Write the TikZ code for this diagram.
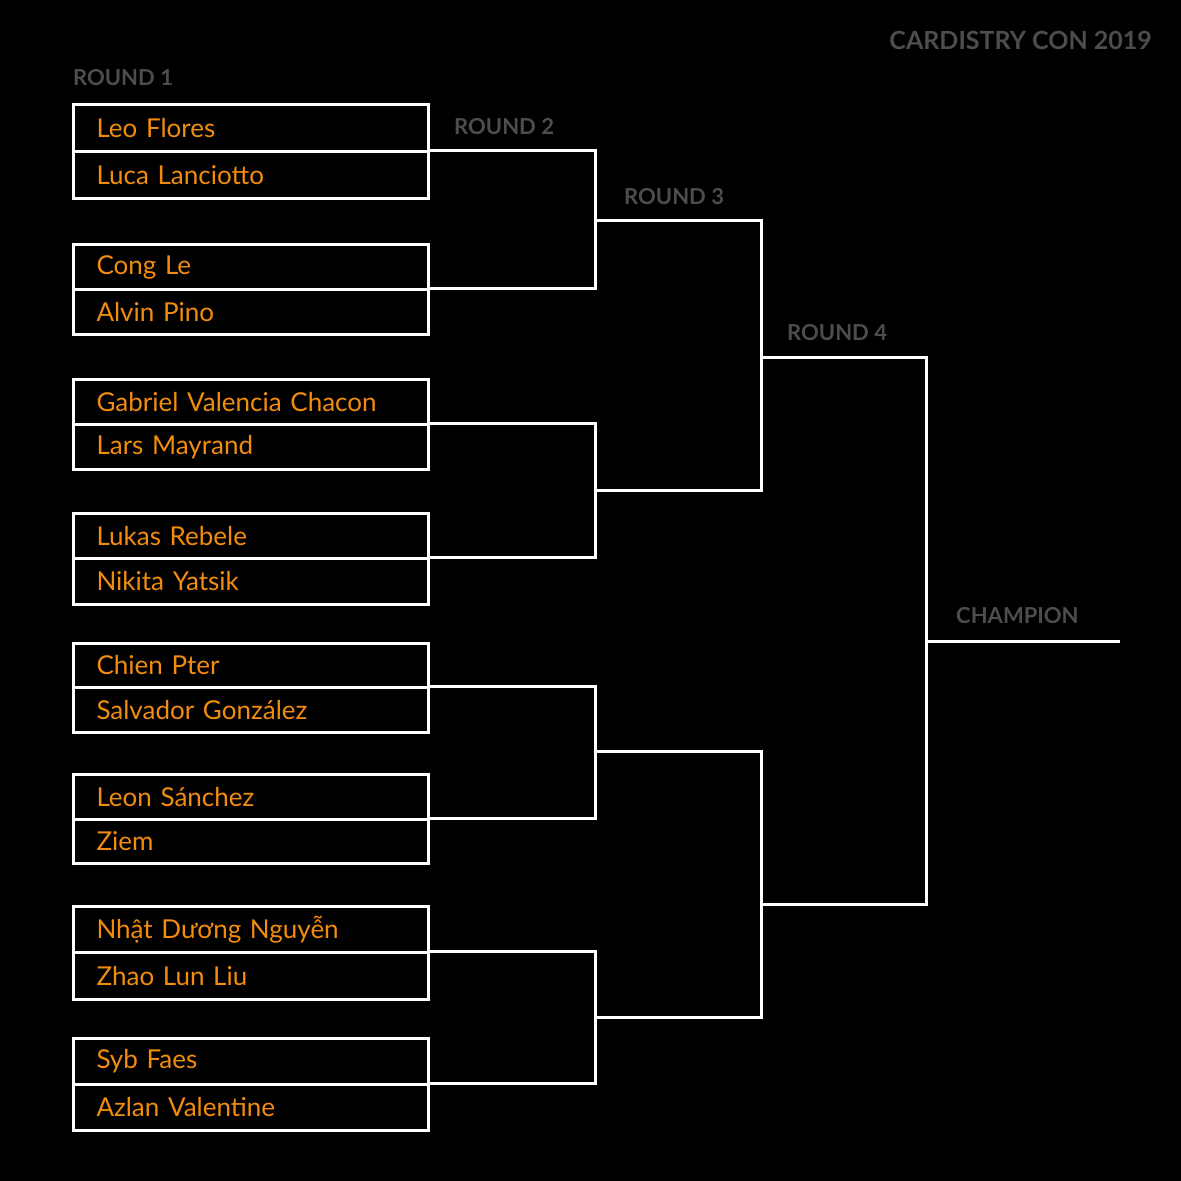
\documentclass[tikz,border=0pt]{standalone}
\usepackage{fontspec}
\setmainfont{Lato}
\usetikzlibrary{positioning}
\definecolor{bracketorange}{HTML}{F28C0F}
\definecolor{roundgray}{HTML}{4D4D4D}
\tikzset{
	entrant/.style={draw=white, line width=3pt, inner xsep=23pt, inner ysep=0pt, text width=309pt, align=left, text=bracketorange, font=\fontsize{26}{28}\selectfont, anchor=north west},
	roundlabel/.style={text=roundgray, font=\bfseries\fontsize{22}{24}\selectfont, inner sep=0pt},
	bracket/.style={draw=white, line width=3pt}
}
\begin{document}
\begin{tikzpicture}[x=1pt,y=-1pt]
	\fill[black] (0,0) rectangle (1181,1181);
	\useasboundingbox (0,0) rectangle (1181,1181);
	% round 1 boxes
	\foreach \i/\t/\m/\b/\na/\nb in {1/103/150/197/Leo Flores/Luca Lanciotto,
		2/243/288/333/Cong Le/Alvin Pino,
		3/378/423/468/Gabriel Valencia Chacon/Lars Mayrand,
		4/512/557/603/Lukas Rebele/Nikita Yatsik,
		5/642/686/731/Chien Pter/Salvador González,
		6/773/818/862/Leon Sánchez/Ziem,
		7/905/951/998/Nhật Dương Nguyễn/Zhao Lun Liu,
		8/1037/1083/1129/Syb Faes/Azlan Valentine}{
		\pgfmathsetmacro\ha{\m-\t}
		\pgfmathsetmacro\hb{\b-\m}
		\node[entrant, minimum height=\ha pt] (a\i) at (72,\t) {\na};
		\node[entrant, minimum height=\hb pt] (b\i) at (72,\m) {\nb};
		\coordinate (p\i) at (427,\m);
	}
	% round 2
	\coordinate (r2a) at (595,220);
	\coordinate (r2b) at (595,490);
	\coordinate (r2c) at (595,751);
	\coordinate (r2d) at (595,1017);
	\draw[bracket] (p1) -| (r2a) |- (p2);
	\draw[bracket] (p3) -| (r2b) |- (p4);
	\draw[bracket] (p5) -| (r2c) |- (p6);
	\draw[bracket] (p7) -| (r2d) |- (p8);
	% round 3
	\coordinate (r3a) at (761,357);
	\coordinate (r3b) at (761,904);
	\draw[bracket] (r2a) -| (r3a) |- (r2b);
	\draw[bracket] (r2c) -| (r3b) |- (r2d);
	% round 4 and champion
	\coordinate (r4) at (926,641);
	\coordinate (champ) at (1120,641);
	\draw[bracket] (r3a) -| (r4) |- (r3b);
	\draw[bracket] (r4) -- (champ);
	% labels
	\node[roundlabel, anchor=west] (l1) at (73,78) {ROUND 1};
	\node[roundlabel, anchor=west] (l2) at (454,127) {ROUND 2};
	\node[roundlabel, anchor=west] (l3) at (624,197) {ROUND 3};
	\node[roundlabel, anchor=west] (l4) at (787,333) {ROUND 4};
	\node[roundlabel, anchor=west] (lc) at (956,616) {CHAMPION};
	\node[roundlabel, anchor=east, font=\bfseries\fontsize{25}{27}\selectfont] (title) at (1152,40) {CARDISTRY CON 2019};
\end{tikzpicture}
\end{document}
